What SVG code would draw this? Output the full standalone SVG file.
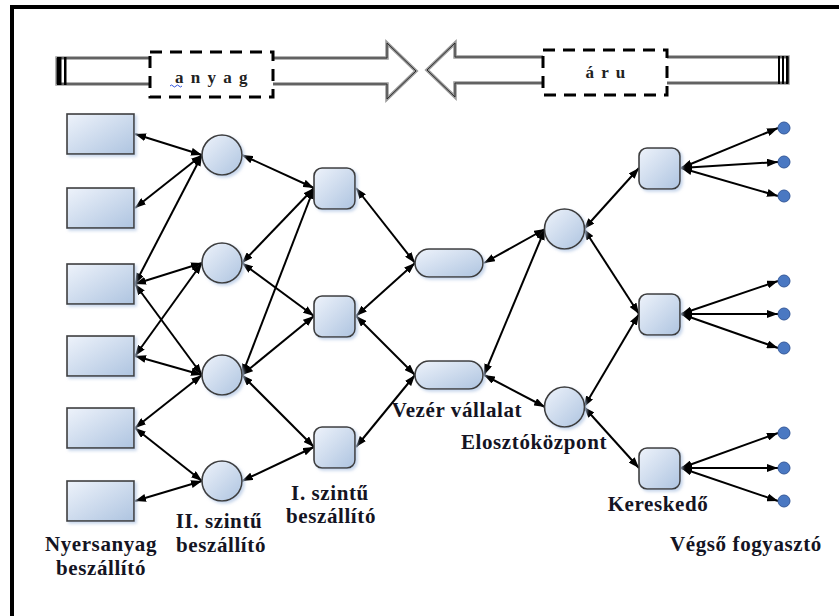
<svg xmlns="http://www.w3.org/2000/svg" width="839" height="616" viewBox="0 0 839 616">
  <defs>
    <linearGradient id="nodeFill" x1="0" y1="0" x2="1" y2="1">
      <stop offset="0" stop-color="#eef3fb"/>
      <stop offset="1" stop-color="#aec4e0"/>
    </linearGradient>
    <filter id="shadow" x="-20%" y="-20%" width="150%" height="150%">
      <feDropShadow dx="2" dy="2" stdDeviation="1.5" flood-color="#b9cce6" flood-opacity="0.8"/>
    </filter>
    <marker id="tip" viewBox="0 0 11 8" refX="11" refY="4" markerWidth="11" markerHeight="8" markerUnits="userSpaceOnUse" orient="auto-start-reverse">
      <path d="M0,0 L11,4 L0,8 z" fill="#000"/>
    </marker>
  </defs>
  <style>
    .node { fill: url(#nodeFill); stroke: #3d3d3d; stroke-width: 1.6; filter: url(#shadow); }
    .dot { fill: #4a78c2; stroke: #35599a; stroke-width: 1; }
    .link { stroke: #000; stroke-width: 2; fill: none; marker-start: url(#tip); marker-end: url(#tip); }
    .label { font-family: "Liberation Serif", "DejaVu Serif", serif; font-weight: bold; font-size: 21px; letter-spacing: 0.6px; fill: #141423; text-anchor: middle; }
    .flow { font-family: "Liberation Serif", "DejaVu Serif", serif; font-weight: bold; font-size: 17px; letter-spacing: 1.5px; fill: #222; text-anchor: middle; }
    .shaftUnder { fill: #fff; stroke: #9a9a9a; stroke-width: 3.5; stroke-linejoin: miter; }
    .shaftOver { fill: none; stroke: #2a2a2a; stroke-width: 1; stroke-linejoin: miter; }
    .dash { fill: #fff; stroke: #000; stroke-width: 3; stroke-dasharray: 12 8; }
  </style>

  <!-- frame -->
  <rect x="12" y="7" width="840" height="620" fill="#fff" stroke="#000" stroke-width="4"/>

  <!-- material flow arrow (to the right) -->
  <g id="flow-anyag">
    <polygon class="shaftUnder" points="57,58 387,58 387,43 416,71 387,99 387,84 57,84"/>
    <polygon class="shaftOver" points="57,58 387,58 387,43 416,71 387,99 387,84 57,84"/>
    <rect x="57" y="57" width="4.5" height="28" fill="#000"/>
    <rect x="64" y="57" width="2.5" height="28" fill="#000"/>
    <rect class="dash" x="150" y="52" width="123" height="45"/>
    <text class="flow" x="212" y="83">a n y a g</text>
    <path d="M170,86 q1.5,-2 3,0 t3,0 t3,0 t3,0" fill="none" stroke="#3355dd" stroke-width="1"/>
  </g>

  <!-- goods flow arrow (to the left) -->
  <g id="flow-aru">
    <polygon class="shaftUnder" points="788,57 455,57 455,43 427,70 455,97 455,83 788,83"/>
    <polygon class="shaftOver" points="788,57 455,57 455,43 427,70 455,97 455,83 788,83"/>
    <rect x="778" y="56" width="2" height="28" fill="#000"/>
    <rect x="782" y="56" width="2" height="28" fill="#000"/>
    <rect x="786" y="56" width="2.5" height="28" fill="#000"/>
    <rect class="dash" x="543" y="50" width="124" height="45"/>
    <text class="flow" x="606" y="78">á r u</text>
  </g>

  <!-- connectors -->
  <g id="connectors">
    <line class="link" x1="135" y1="134" x2="202" y2="155"/>
    <line class="link" x1="135" y1="208" x2="202" y2="155"/>
    <line class="link" x1="135" y1="284" x2="202" y2="155"/>
    <line class="link" x1="135" y1="284" x2="202" y2="263"/>
    <line class="link" x1="135" y1="284" x2="202" y2="375"/>
    <line class="link" x1="135" y1="356" x2="202" y2="263"/>
    <line class="link" x1="135" y1="356" x2="202" y2="375"/>
    <line class="link" x1="135" y1="428" x2="202" y2="375"/>
    <line class="link" x1="135" y1="428" x2="202" y2="481"/>
    <line class="link" x1="135" y1="501" x2="202" y2="481"/>

    <line class="link" x1="242" y1="155" x2="314" y2="188"/>
    <line class="link" x1="242" y1="263" x2="314" y2="188"/>
    <line class="link" x1="242" y1="375" x2="314" y2="188"/>
    <line class="link" x1="242" y1="263" x2="314" y2="316"/>
    <line class="link" x1="242" y1="375" x2="314" y2="316"/>
    <line class="link" x1="242" y1="375" x2="314" y2="447"/>
    <line class="link" x1="242" y1="481" x2="314" y2="447"/>

    <line class="link" x1="356" y1="188" x2="415" y2="263"/>
    <line class="link" x1="356" y1="316" x2="415" y2="263"/>
    <line class="link" x1="356" y1="316" x2="415" y2="375"/>
    <line class="link" x1="356" y1="447" x2="415" y2="375"/>

    <line class="link" x1="484" y1="263" x2="545" y2="229"/>
    <line class="link" x1="484" y1="375" x2="545" y2="229"/>
    <line class="link" x1="484" y1="375" x2="545" y2="407"/>

    <line class="link" x1="584" y1="229" x2="639" y2="168"/>
    <line class="link" x1="584" y1="229" x2="639" y2="314"/>
    <line class="link" x1="584" y1="407" x2="639" y2="314"/>
    <line class="link" x1="584" y1="407" x2="639" y2="468"/>

    <line class="link" x1="681" y1="168" x2="778" y2="128"/>
    <line class="link" x1="681" y1="168" x2="778" y2="162"/>
    <line class="link" x1="681" y1="168" x2="778" y2="196"/>
    <line class="link" x1="681" y1="314" x2="778" y2="281"/>
    <line class="link" x1="681" y1="314" x2="778" y2="314"/>
    <line class="link" x1="681" y1="314" x2="778" y2="348"/>
    <line class="link" x1="681" y1="468" x2="778" y2="433"/>
    <line class="link" x1="681" y1="468" x2="778" y2="468"/>
    <line class="link" x1="681" y1="468" x2="778" y2="501"/>
  </g>

  <!-- raw material suppliers -->
  <g id="raw1"><rect class="node" x="67" y="114" width="67" height="40"/></g>
  <g id="raw2"><rect class="node" x="67" y="188" width="67" height="40"/></g>
  <g id="raw3"><rect class="node" x="67" y="264" width="67" height="40"/></g>
  <g id="raw4"><rect class="node" x="67" y="336" width="67" height="40"/></g>
  <g id="raw5"><rect class="node" x="67" y="408" width="67" height="40"/></g>
  <g id="raw6"><rect class="node" x="67" y="481" width="67" height="40"/></g>

  <!-- second tier suppliers -->
  <g id="tier2-1"><circle class="node" cx="222" cy="155" r="20"/></g>
  <g id="tier2-2"><circle class="node" cx="222" cy="263" r="20"/></g>
  <g id="tier2-3"><circle class="node" cx="222" cy="375" r="20"/></g>
  <g id="tier2-4"><circle class="node" cx="222" cy="481" r="20"/></g>

  <!-- first tier suppliers -->
  <g id="tier1-1"><rect class="node" x="314" y="168" width="41" height="41" rx="8"/></g>
  <g id="tier1-2"><rect class="node" x="314" y="296" width="41" height="41" rx="8"/></g>
  <g id="tier1-3"><rect class="node" x="314" y="427" width="41" height="41" rx="8"/></g>

  <!-- focal company -->
  <g id="focal-1"><rect class="node" x="415" y="249" width="68" height="28" rx="14"/></g>
  <g id="focal-2"><rect class="node" x="415" y="361" width="68" height="28" rx="14"/></g>

  <!-- distribution centres -->
  <g id="dist-1"><circle class="node" cx="564.5" cy="229" r="20"/></g>
  <g id="dist-2"><circle class="node" cx="564.5" cy="407" r="20"/></g>

  <!-- retailers -->
  <g id="retail-1"><rect class="node" x="639" y="148" width="41" height="41" rx="8"/></g>
  <g id="retail-2"><rect class="node" x="639" y="294" width="41" height="41" rx="8"/></g>
  <g id="retail-3"><rect class="node" x="639" y="448" width="41" height="41" rx="8"/></g>

  <!-- end consumers -->
  <g id="consumers">
    <circle class="dot" cx="784" cy="128" r="6"/>
    <circle class="dot" cx="784" cy="162" r="6"/>
    <circle class="dot" cx="784" cy="196" r="6"/>
    <circle class="dot" cx="784" cy="281" r="6"/>
    <circle class="dot" cx="784" cy="314" r="6"/>
    <circle class="dot" cx="784" cy="348" r="6"/>
    <circle class="dot" cx="784" cy="433" r="6"/>
    <circle class="dot" cx="784" cy="468" r="6"/>
    <circle class="dot" cx="784" cy="501" r="6"/>
  </g>

  <!-- labels -->
  <g id="labels">
    <text class="label" x="101" y="551">Nyersanyag</text>
    <text class="label" x="101" y="575">beszállító</text>
    <text class="label" x="219" y="528">II. szintű</text>
    <text class="label" x="221" y="552">beszállító</text>
    <text class="label" x="330" y="500">I. szintű</text>
    <text class="label" x="331" y="523">beszállító</text>
    <text class="label" x="457" y="417">Vezér vállalat</text>
    <text class="label" x="534" y="449">Elosztóközpont</text>
    <text class="label" x="658" y="511">Kereskedő</text>
    <text class="label" x="746" y="551">Végső fogyasztó</text>
  </g>
</svg>
